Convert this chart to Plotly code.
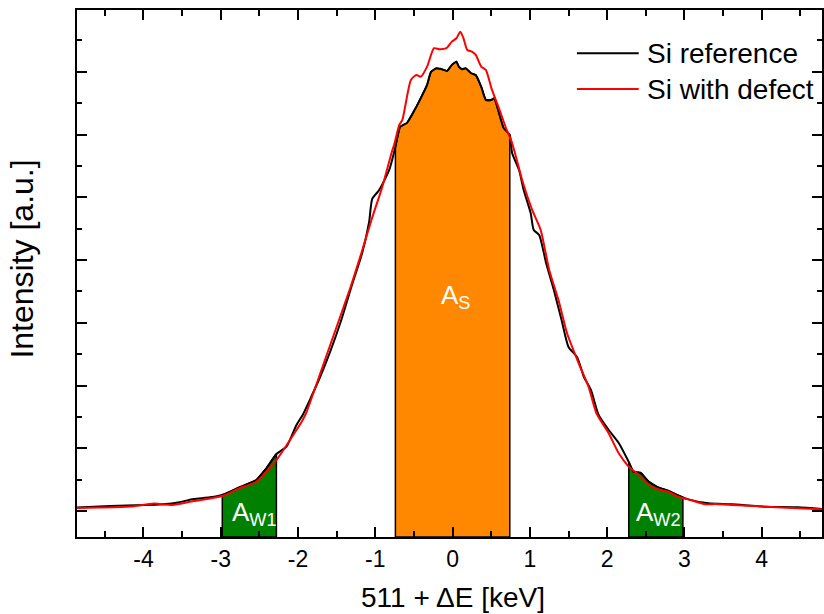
import numpy as np
import plotly.graph_objects as go

# Doppler-broadened annihilation line, energy offset from 511 keV (keV)
ref_x = [-4.86, -4.43, -3.99, -3.79, -3.57, -3.35, -3.14, -2.96, -2.75, -2.54,
         -2.41, -2.28, -2.15, -2.02, -1.94, -1.83, -1.72, -1.59, -1.44, -1.31,
         -1.17, -1.08, -1.04, -0.95, -0.82, -0.74, -0.68, -0.59, -0.47, -0.39,
         -0.33, -0.28, -0.21, -0.14, -0.07, -0.01, 0.05, 0.08, 0.12, 0.17,
         0.24, 0.30, 0.37, 0.43, 0.50, 0.54, 0.60, 0.66, 0.74, 0.77,
         0.86, 0.92, 1.01, 1.05, 1.12, 1.21, 1.31, 1.41, 1.50, 1.61,
         1.70, 1.79, 1.89, 2.02, 2.15, 2.28, 2.34, 2.43, 2.54, 2.66,
         2.79, 2.90, 3.05, 3.31, 3.61, 4.05, 4.47, 4.78]
ref_y = [56, 80, 96, 104, 132, 191, 218, 266, 383, 494,
         681, 909, 1025, 1371, 1530, 1817, 2120, 2519, 3045, 3571,
         4113, 4607, 4974, 5117, 5436, 5803, 6122, 6186, 6440, 6632,
         6791, 6998, 7057, 7041, 7014, 7110, 7162, 7083, 7041, 7057,
         6977, 6950, 6764, 6552, 6552, 6579, 6345, 6105, 5994, 5707,
         5436, 5117, 4750, 4479, 4400, 3953, 3523, 3045, 2614, 2455,
         2136, 1929, 1530, 1291, 1084, 781, 626, 610, 467, 378,
         324, 255, 186, 123, 107, 69, 59, 32]

def_x = [-4.86, -4.56, -4.17, -3.86, -3.63, -3.35, -3.14, -2.96, -2.75, -2.54,
         -2.28, -2.02, -1.94, -1.89, -1.62, -1.32, -1.18, -1.05, -0.91, -0.79,
         -0.75, -0.69, -0.65, -0.54, -0.47, -0.41, -0.33, -0.24, -0.17, -0.08,
         -0.01, 0.05, 0.10, 0.14, 0.19, 0.25, 0.30, 0.37, 0.43, 0.51,
         0.60, 0.70, 0.77, 0.90, 1.03, 1.14, 1.25, 1.37, 1.48, 1.63,
         1.76, 1.86, 2.02, 2.15, 2.28, 2.41, 2.54, 2.66, 2.79, 2.92,
         3.05, 3.27, 3.40, 3.61, 4.05, 4.47, 4.78]
def_y = [48, 56, 72, 120, 96, 159, 199, 247, 367, 467,
         813, 1291, 1451, 1578, 2519, 3571, 4113, 4639, 5165, 5707,
         5866, 6153, 6233, 6870, 6950, 6923, 7083, 7376, 7360, 7376,
         7481, 7535, 7640, 7535, 7348, 7322, 7269, 7083, 7030, 6711,
         6419, 6073, 5866, 5276, 4798, 4479, 3842, 3363, 2837, 2359,
         1977, 1562, 1239, 920, 706, 574, 414, 346, 308, 228,
         186, 107, 112, 96, 69, 43, 27]

# Integration windows (keV): S parameter and the two wing regions
s_window = (-0.74, 0.74)
w1_window = (-2.98, -2.28)
w2_window = (2.28, 2.98)

x_range = [-4.86, 4.78]
y_range = [-414, 7985]
x_ticks = [-4, -3, -2, -1, 0, 1, 2, 3, 4]
x_ticktext = ["-4", "-3", "-2", "-1", "0", "1", "2", "3", "4"]

series_names = ["Si reference", "Si with defect"]
series_colors = ["black", "#FF0000"]

FONT = "Liberation Sans, Arial, sans-serif"


def window_area(lo, hi, color):
    xs = [lo] + [x for x in ref_x if lo < x < hi] + [hi]
    ys = list(np.interp(xs, ref_x, ref_y))
    base = y_range[0]
    return go.Scatter(
        x=[lo] + xs + [hi, lo],
        y=[base] + ys + [base, base],
        mode="lines", fill="toself", fillcolor=color,
        line=dict(color="black", width=1.5),
        hoverinfo="skip", showlegend=False,
    )


fig = go.Figure()
fig.add_trace(window_area(*s_window, "#FF8800"))
fig.add_trace(window_area(*w1_window, "#008000"))
fig.add_trace(window_area(*w2_window, "#008000"))
for (xs, ys), name, color in zip([(ref_x, ref_y), (def_x, def_y)],
                                 series_names, series_colors):
    fig.add_trace(go.Scatter(x=xs, y=ys, mode="lines", name=name,
                             line=dict(color=color, width=2,
                                       shape="spline", smoothing=0.6),
                             showlegend=False))

# Legend drawn as long line samples with labels (paper coordinates)
legend_rows_y = [0.918, 0.850]
for name, color, ly in zip(series_names, series_colors, legend_rows_y):
    fig.add_shape(type="line", xref="paper", yref="paper",
                  x0=0.671, x1=0.754, y0=ly, y1=ly,
                  line=dict(color=color, width=2))
    fig.add_annotation(xref="paper", yref="paper", x=0.762, y=ly,
                       xanchor="left", yanchor="middle", text=name,
                       showarrow=False, font=dict(family=FONT, size=28))

labels = [
    (0.04, 3420, "A<sub>S</sub>"),
    (-2.56, -40, "A<sub>W1</sub>"),
    (2.66, -40, "A<sub>W2</sub>"),
]
for lx, ly, txt in labels:
    fig.add_annotation(x=lx, y=ly, text=txt, showarrow=False,
                       font=dict(family=FONT, size=26, color="white"))

# Axis titles
fig.add_annotation(xref="paper", yref="paper", x=-0.074, y=0.528,
                   xanchor="center", yanchor="middle", textangle=-90,
                   text="Intensity [a.u.]", showarrow=False,
                   font=dict(family=FONT, size=32))
fig.add_annotation(xref="paper", yref="paper", x=0.5047, y=-0.1157,
                   xanchor="center", yanchor="middle",
                   text="511 + \u0394E [keV]", showarrow=False,
                   font=dict(family=FONT, size=28))

fig.update_layout(
    width=824, height=614,
    margin=dict(l=77, r=0, t=10, b=77),
    paper_bgcolor="white", plot_bgcolor="white",
    font=dict(family=FONT, color="black"),
    showlegend=False,
)
fig.update_xaxes(
    range=x_range, showgrid=False, zeroline=False,
    showline=True, linecolor="black", linewidth=2, mirror="ticks",
    ticks="inside", ticklen=10, tickwidth=1.5, tickcolor="black",
    tickvals=x_ticks, ticktext=x_ticktext, tickfont=dict(size=23),
    minor=dict(ticks="inside", ticklen=6, dtick=0.5, tick0=0,
               tickcolor="black", tickwidth=1.5),
)
fig.update_yaxes(
    range=y_range, showgrid=False, zeroline=False,
    showline=True, linecolor="black", linewidth=2, mirror="ticks",
    ticks="inside", ticklen=10, tickwidth=1.5, tickcolor="black",
    dtick=1000, tick0=0, showticklabels=False,
    minor=dict(ticks="inside", ticklen=5, dtick=500, tick0=0,
               tickcolor="black", tickwidth=1.5),
)

fig.write_html("out.html")
